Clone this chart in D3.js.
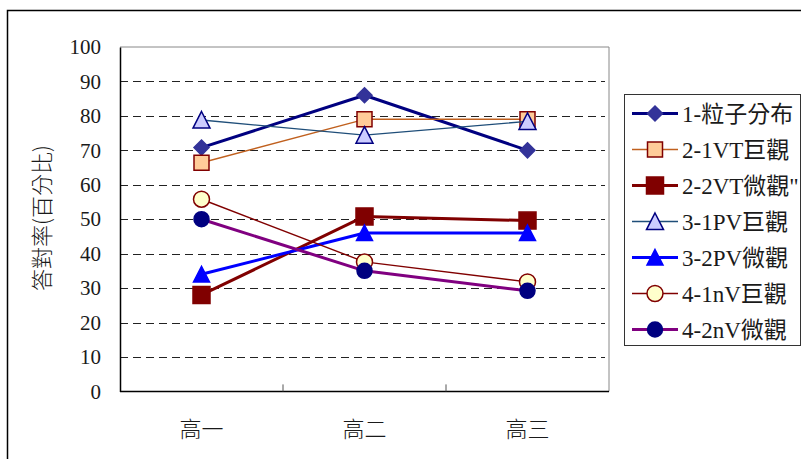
<!DOCTYPE html>
<html>
<head>
<meta charset="utf-8">
<script src="https://cdn.jsdelivr.net/npm/d3@7"></script>
<style>
  html, body { margin: 0; padding: 0; background: #fff; }
  svg { display: block; }
</style>
</head>
<body>
<svg id="chart" width="801" height="459"></svg>
<script>
// Grade levels and answer-rate series (percent correct)
const categories = ["高一", "高二", "高三"];
const seriesNames = ["1-粒子分布", "2-1VT巨觀", "2-2VT微觀\"", "3-1PV巨觀", "3-2PV微觀", "4-1nV巨觀", "4-2nV微觀"];
const particleDist = [70.8, 86, 70];
const vtMacro = [66.4, 79, 79];
const vtMicro = [28, 50.8, 49.6];
const pvMacro = [78.8, 74.4, 78.4];
const pvMicro = [34, 46, 46];
const nvMacro = [55.8, 37.6, 31.8];
const nvMicro = [50, 35, 29.2];
const yTicks = [0, 10, 20, 30, 40, 50, 60, 70, 80, 90, 100];
const yLabel = "答對率(百分比)";

const SERIF = "'Liberation Serif', 'DejaVu Serif', 'Noto Sans CJK TC', serif";
const CJK = "'Noto Sans CJK TC', 'Noto Sans CJK SC', sans-serif";

// Visual style of each series
const styles = [
  { line: "#000080", width: 3,   shape: "diamond",  fill: "#333399", stroke: "#333399", size: 7.5 },
  { line: "#c0601e", width: 1.4, shape: "square",   fill: "#ffcc99", stroke: "#800000", size: 7.5 },
  { line: "#800000", width: 3,   shape: "square",   fill: "#800000", stroke: "#800000", size: 8.5 },
  { line: "#1f4e79", width: 1.4, shape: "triangle", fill: "#ccccff", stroke: "#000080", size: 8.5 },
  { line: "#0000ff", width: 3,   shape: "triangle", fill: "#0000ff", stroke: "#0000ff", size: 8 },
  { line: "#800000", width: 1.4, shape: "circle",   fill: "#ffffcc", stroke: "#800000", size: 8 },
  { line: "#800080", width: 3,   shape: "circle",   fill: "#000080", stroke: "#000080", size: 7.5 }
];
const seriesValues = [particleDist, vtMacro, vtMicro, pvMacro, pvMicro, nvMacro, nvMicro];
const series = seriesNames.map((name, i) => ({ name, values: seriesValues[i], style: styles[i] }));

const svg = d3.select("#chart");
const plot = { left: 120, top: 47, right: 609, bottom: 391.4 };

const x = d3.scaleBand().domain(categories).range([plot.left, plot.right]).padding(0);
const y = d3.scaleLinear().domain([0, 100]).range([plot.bottom, plot.top]);

// Outer chart frame
svg.append("rect")
  .attr("x", 7.5).attr("y", 10.5).attr("width", 900).attr("height", 600)
  .attr("fill", "none").attr("stroke", "#000").attr("stroke-width", 1.5);

// Plot area outline (top/right grey)
svg.append("path")
  .attr("d", `M${plot.left},${plot.top}H${plot.right}V${plot.bottom}`)
  .attr("fill", "none").attr("stroke", "#888").attr("stroke-width", 1);

// Dashed gridlines
svg.append("g")
  .selectAll("line")
  .data(yTicks.filter(t => t > 0 && t < 100))
  .join("line")
  .attr("x1", plot.left).attr("x2", plot.right - 4)
  .attr("y1", d => Math.round(y(d)) + 0.5).attr("y2", d => Math.round(y(d)) + 0.5)
  .attr("stroke", "#222").attr("stroke-width", 1)
  .attr("stroke-dasharray", "8,5");

// Y axis
const yAxis = svg.append("g")
  .attr("transform", `translate(${plot.left},0)`)
  .call(d3.axisLeft(y).tickValues(yTicks).tickSize(0).tickPadding(19));
yAxis.select(".domain").attr("stroke", "#000").attr("stroke-width", 1.5);
yAxis.selectAll("text")
  .style("font-family", SERIF)
  .style("font-size", "21px")
  .attr("fill", "#1a1a1a");

// X axis: inward ticks at category boundaries, labels below
const xAxisG = svg.append("g").attr("transform", `translate(0,${plot.bottom})`);
xAxisG.append("line")
  .attr("x1", plot.left).attr("x2", plot.right)
  .attr("stroke", "#000").attr("stroke-width", 1.5);
xAxisG.selectAll("line.tick")
  .data(categories.slice(1))
  .join("line").attr("class", "tick")
  .attr("x1", d => x(d)).attr("x2", d => x(d))
  .attr("y1", 0).attr("y2", -7)
  .attr("stroke", "#555").attr("stroke-width", 1);
xAxisG.selectAll("text")
  .data(categories)
  .join("text")
  .attr("x", d => x(d) + x.bandwidth() / 2)
  .attr("y", 46)
  .attr("text-anchor", "middle")
  .style("font-family", CJK)
  .style("font-size", "22px")
  .style("font-weight", "300")
  .attr("fill", "#1a1a1a")
  .text(d => d);

// Y axis title
svg.append("text")
  .attr("transform", `translate(40,218) rotate(-90)`)
  .attr("text-anchor", "middle")
  .attr("dominant-baseline", "central")
  .style("font-family", CJK)
  .style("font-size", "22px")
  .style("font-weight", "300")
  .attr("fill", "#1a1a1a")
  .text(yLabel);

// Marker path generator
function markerPath(shape, s) {
  switch (shape) {
    case "diamond": return `M0,${-s}L${s},0L0,${s}L${-s},0Z`;
    case "square": return `M${-s},${-s}H${s}V${s}H${-s}Z`;
    case "triangle": return `M0,${-s}L${s},${s * 0.95}H${-s}Z`;
    default: return d3.arc()({ innerRadius: 0, outerRadius: s, startAngle: 0, endAngle: 2 * Math.PI });
  }
}

const line = d3.line()
  .x((d, i) => x(categories[i]) + x.bandwidth() / 2)
  .y(d => y(d));

// Series: line first, then markers, one series at a time
series.forEach(s => {
  const g = svg.append("g");
  g.append("path")
    .attr("d", line(s.values))
    .attr("fill", "none")
    .attr("stroke", s.style.line)
    .attr("stroke-width", s.style.width)
    .attr("stroke-linejoin", "round");
  g.selectAll("path.m")
    .data(s.values)
    .join("path").attr("class", "m")
    .attr("transform", (d, i) => `translate(${x(categories[i]) + x.bandwidth() / 2},${y(d)})`)
    .attr("d", markerPath(s.style.shape, s.style.size))
    .attr("fill", s.style.fill)
    .attr("stroke", s.style.stroke)
    .attr("stroke-width", 1.5);
});

// Legend
const legend = svg.append("g");
legend.append("rect")
  .attr("x", 624.5).attr("y", 94.5).attr("width", 176).attr("height", 251)
  .attr("fill", "#fff").attr("stroke", "#333").attr("stroke-width", 1);
const rows = legend.selectAll("g.row")
  .data(series)
  .join("g").attr("class", "row")
  .attr("transform", (d, i) => `translate(0,${113.5 + i * 36})`);
rows.append("line")
  .attr("x1", 632).attr("x2", 678)
  .attr("stroke", d => d.style.line)
  .attr("stroke-width", d => d.style.width);
rows.append("path")
  .attr("transform", "translate(655,0)")
  .attr("d", d => markerPath(d.style.shape, d.style.size))
  .attr("fill", d => d.style.fill)
  .attr("stroke", d => d.style.stroke)
  .attr("stroke-width", 1.5);
rows.append("text")
  .attr("x", 682).attr("y", 0)
  .attr("dy", "0.36em")
  .style("font-family", SERIF)
  .style("font-size", "23px")
  .attr("fill", "#1a1a1a")
  .text(d => d.name);
</script>
</body>
</html>
